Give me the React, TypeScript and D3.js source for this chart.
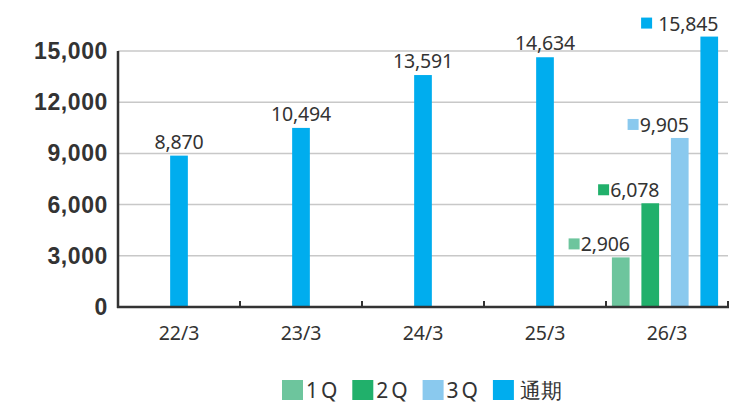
import * as d3 from "d3";

const categories = ["22/3", "23/3", "24/3", "25/3", "26/3"];
const seriesKeys = ["1Q", "2Q", "3Q", "通期"];
const seriesColors = ["#6dc59d", "#21b06b", "#8ac9ee", "#00adee"];

// null = not shown for that year
const q1Values = [null, null, null, null, 2906];
const q2Values = [null, null, null, null, 6078];
const q3Values = [null, null, null, null, 9905];
const fullYearValues = [8870, 10494, 13591, 14634, 15845];

const yTicks = [0, 3000, 6000, 9000, 12000, 15000];

const W = 740;
const H = 404;
const MARGIN = { top: 51, right: 12, bottom: 98, left: 118 };

export default function App() {
  const allSeries = [q1Values, q2Values, q3Values, fullYearValues];

  const x = d3
    .scaleBand()
    .domain(categories)
    .range([MARGIN.left, W - MARGIN.right])
    .padding(0);

  const y = d3
    .scaleLinear()
    .domain([0, 15000])
    .range([H - MARGIN.bottom + 1, MARGIN.top]);

  const inner = d3
    .scaleBand()
    .domain(seriesKeys)
    .range([0, x.bandwidth() - 4])
    .paddingInner(0.4)
    .paddingOuter(0.2);

  const barW = inner.bandwidth();
  const fmt = d3.format(",");
  const baseY = y(0);

  const bars = categories.map((cat, ci) => {
    const shown = seriesKeys.filter((k, si) => allSeries[si][ci] != null);
    const single = shown.length === 1;
    return seriesKeys.map((key, si) => {
      const v = allSeries[si][ci];
      if (v == null) return null;
      const bx = single
        ? x(cat) + x.bandwidth() / 2 - barW / 2
        : x(cat) + inner(key);
      const top = y(v);
      return (
        <g key={cat + key}>
          <rect x={bx} y={top} width={barW} height={baseY - top} fill={seriesColors[si]} />
          {single ? (
            <text
              x={bx + barW / 2}
              y={top - 7}
              textAnchor="middle"
              fontSize={19.5}
              letterSpacing={-0.2}
              fill="#333"
            >
              {fmt(v)}
            </text>
          ) : (
            <g>
              <text
                x={bx + barW}
                y={top - 6}
                textAnchor="end"
                fontSize={19.5}
                letterSpacing={-0.2}
                fill="#333"
              >
                {fmt(v)}
              </text>
              <rect
                x={bx + barW - (v >= 10000 ? 62 : 46) - 15}
                y={top - 19}
                width={11}
                height={11}
                fill={seriesColors[si]}
              />
            </g>
          )}
        </g>
      );
    });
  });

  const right = W - MARGIN.right;

  return (
    <svg width={W} height={H} style={{ position: "absolute", left: 0, top: 0 }} fontFamily="'Noto Sans', sans-serif">
      <rect width={W} height={H} fill="#fff" />
      {yTicks.slice(1).map((t) => (
        <line key={t} x1={MARGIN.left} x2={right} y1={y(t)} y2={y(t)} stroke="#c8c8c8" strokeWidth={1.5} />
      ))}
      {yTicks.map((t) => (
        <text
          key={"l" + t}
          x={108}
          y={y(t) + 8}
          textAnchor="end"
          fontFamily="'Liberation Sans', Arial, sans-serif"
          fontWeight={700}
          fontSize={23}
          letterSpacing={0.6}
          fill="#333"
        >
          {fmt(t)}
        </text>
      ))}
      {bars}
      <line x1={MARGIN.left} x2={MARGIN.left} y1={MARGIN.top} y2={baseY + 1} stroke="#333" strokeWidth={2.5} />
      <line x1={MARGIN.left - 1} x2={right + 1} y1={baseY} y2={baseY} stroke="#333" strokeWidth={2.5} />
      {categories.map((cat) => (
        <line key={"t" + cat} x1={x(cat) + x.bandwidth()} x2={x(cat) + x.bandwidth()} y1={baseY} y2={baseY - 6} stroke="#333" strokeWidth={2} />
      ))}
      {categories.map((cat) => (
        <text key={"c" + cat} x={x(cat) + x.bandwidth() / 2} y={340} textAnchor="middle" fontSize={19.5} fill="#333">
          {cat}
        </text>
      ))}
      {seriesKeys.map((key, i) => (
        <g key={"lg" + key} transform={`translate(${282 + i * 70.3},380)`}>
          <rect width={21} height={20} fill={seriesColors[i]} />
          <text x={24 + (i === 3 ? 3 : 0)} y={18} fontSize={21} letterSpacing={key === "通期" ? 0 : 3} fill="#333">
            {key}
          </text>
        </g>
      ))}
    </svg>
  );
}
